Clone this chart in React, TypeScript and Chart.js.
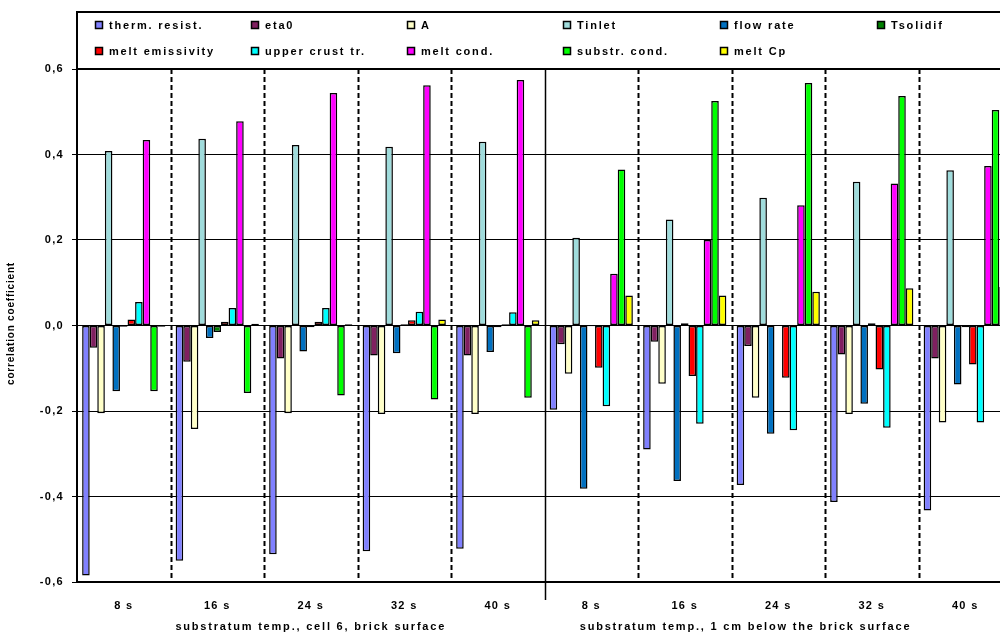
import React, { useEffect, useRef } from 'react';
import { Chart, registerables } from 'chart.js';

Chart.register(...registerables);

const categories = ['8 s', '16 s', '24 s', '32 s', '40 s', '8 s', '16 s', '24 s', '32 s', '40 s'];
const groupLabels = ['substratum temp., cell 6, brick surface', 'substratum temp., 1 cm below the brick surface'];
const yAxisTitle = 'correlation coefficient';
const yTickValues = [-0.6, -0.4, -0.2, 0, 0.2, 0.4, 0.6];

const seriesNames = [
  'therm. resist.', 'eta0', 'A', 'Tinlet', 'flow rate', 'Tsolidif',
  'melt emissivity', 'upper crust tr.', 'melt cond.', 'substr. cond.', 'melt Cp',
];
const seriesColors = [
  '#8080FF', '#802060', '#FFFFC8', '#A0DCDC', '#0070C0', '#008000',
  '#FF0000', '#00FFFF', '#FF00FF', '#00FF00', '#FFFF00',
];

const thermResist = [-0.585, -0.55, -0.535, -0.528, -0.522, -0.197, -0.29, -0.373, -0.413, -0.433];
const eta0 = [-0.052, -0.085, -0.077, -0.07, -0.07, -0.044, -0.038, -0.048, -0.068, -0.077];
const aParam = [-0.205, -0.242, -0.205, -0.207, -0.207, -0.113, -0.136, -0.169, -0.207, -0.227];
const tInlet = [0.408, 0.437, 0.422, 0.418, 0.43, 0.205, 0.248, 0.299, 0.336, 0.363];
const flowRate = [-0.154, -0.029, -0.061, -0.065, -0.062, -0.382, -0.364, -0.253, -0.183, -0.138];
const tSolidif = [-0.003, -0.015, -0.004, 0.003, -0.004, -0.002, 0.005, 0.001, 0.005, -0.004];
const meltEmissivity = [0.014, 0.009, 0.009, 0.012, 0.003, -0.099, -0.118, -0.122, -0.103, -0.091];
const upperCrust = [0.055, 0.041, 0.041, 0.032, 0.031, -0.189, -0.23, -0.245, -0.239, -0.227];
const meltCond = [0.434, 0.478, 0.544, 0.562, 0.574, 0.121, 0.2, 0.281, 0.332, 0.373];
const substrCond = [-0.154, -0.158, -0.164, -0.173, -0.169, 0.365, 0.525, 0.567, 0.537, 0.504];
const meltCp = [-0.003, 0.004, 0.003, 0.014, 0.012, 0.07, 0.07, 0.079, 0.087, 0.09];

const seriesValues = [
  thermResist, eta0, aParam, tInlet, flowRate, tSolidif,
  meltEmissivity, upperCrust, meltCond, substrCond, meltCp,
];

const FAMILY = '"Liberation Sans", Arial, sans-serif';
const FONT = 'bold 11px ' + FAMILY;

const decorPlugin = {
  id: 'decor',
  beforeDraw(chart: any) {
    const ctx = chart.ctx;
    ctx.save();
    ctx.fillStyle = '#fff';
    ctx.fillRect(0, 0, chart.width, chart.height);
    ctx.restore();
    ctx.letterSpacing = '1.3px';
  },
  afterDraw(chart: any) {
    const ctx = chart.ctx;
    const { left, top, right, bottom } = chart.chartArea;
    const x = chart.scales.x;
    ctx.save();
    ctx.letterSpacing = '0px';
    ctx.strokeStyle = '#000';

    // group separators
    for (let i = 1; i < categories.length; i++) {
      const px = Math.round((x.getPixelForValue(i - 1) + x.getPixelForValue(i)) / 2) + 0.5;
      ctx.beginPath();
      if (i === 5) {
        ctx.setLineDash([]);
        ctx.lineWidth = 1.5;
        ctx.moveTo(px, top);
        ctx.lineTo(px, bottom + 18);
      } else {
        ctx.setLineDash([5, 3]);
        ctx.lineWidth = 2;
        ctx.moveTo(px, top);
        ctx.lineTo(px, bottom);
      }
      ctx.stroke();
    }
    ctx.setLineDash([]);

    // legend frame
    const legTop = 12;
    ctx.lineWidth = 2;
    ctx.beginPath();
    ctx.moveTo(left, legTop);
    ctx.lineTo(chart.width, legTop);
    ctx.moveTo(left, legTop - 1);
    ctx.lineTo(left, top);
    ctx.moveTo(left, top);
    ctx.lineTo(right, top);
    ctx.stroke();

    // legend items
    const colX = [95, 251, 407, 563, 720, 877];
    const rowY = [25, 51];
    ctx.font = FONT;
    ctx.textBaseline = 'middle';
    ctx.textAlign = 'left';
    ctx.letterSpacing = '1.8px';
    seriesNames.forEach((name, i) => {
      const col = i % 6;
      const row = Math.floor(i / 6);
      const bx = colX[col];
      const by = rowY[row];
      ctx.fillStyle = seriesColors[i];
      ctx.fillRect(bx, by - 4, 8, 8);
      ctx.lineWidth = 1.5;
      ctx.strokeStyle = '#000';
      ctx.strokeRect(bx + 0.5, by - 3.5, 7, 7);
      ctx.fillStyle = '#000';
      ctx.fillText(name, bx + 14, by + 1);
    });

    // group labels
    ctx.textAlign = 'center';
    ctx.letterSpacing = '1.8px';
    ctx.fillText(groupLabels[0], x.getPixelForValue(2), bottom + 45);
    ctx.fillText(groupLabels[1], x.getPixelForValue(6.65), bottom + 45);

    // y-axis title
    ctx.save();
    ctx.translate(11, (top + bottom) / 2 - 2);
    ctx.rotate(-Math.PI / 2);
    ctx.letterSpacing = '0.8px';
    ctx.font = 'bold 10px ' + FAMILY;
    ctx.textAlign = 'center';
    ctx.textBaseline = 'middle';
    ctx.fillText(yAxisTitle, 0, 0);
    ctx.restore();

    ctx.restore();
  },
};

export default function App() {
  const ref = useRef<HTMLCanvasElement | null>(null);
  useEffect(() => {
    if (!ref.current) return;
    const chart = new Chart(ref.current, {
      type: 'bar',
      data: {
        labels: categories,
        datasets: seriesNames.map((name, i) => ({
          label: name,
          data: seriesValues[i],
          backgroundColor: seriesColors[i],
          borderColor: '#000',
          borderWidth: 1.5,
          borderSkipped: false,
          categoryPercentage: 0.89,
          barPercentage: 1,
        })),
      },
      options: {
        responsive: false,
        animation: false,
        devicePixelRatio: 1,
        layout: { padding: { top: 69, left: 0, right: 0, bottom: 0 } },
        plugins: {
          legend: { display: false },
          tooltip: { enabled: false },
          title: { display: false },
        },
        scales: {
          x: {
            type: 'category',
            offset: true,
            grid: { display: false, drawTicks: false },
            border: { display: true, color: '#000', width: 2 },
            ticks: {
              color: '#000',
              font: { family: FAMILY, size: 11, weight: 'bold' },
              padding: 17,
              maxRotation: 0,
              autoSkip: false,
            },
            afterFit(scale: any) {
              scale.height = 55;
            },
          },
          y: {
            type: 'linear',
            min: -0.6,
            max: 0.6,
            afterBuildTicks(scale: any) {
              scale.ticks = yTickValues.map((v) => ({ value: v }));
            },
            grid: { color: '#000', lineWidth: 1, drawTicks: true, tickLength: 5 },
            border: { display: true, color: '#000', width: 2 },
            ticks: {
              color: '#000',
              font: { family: FAMILY, size: 11, weight: 'bold' },
              padding: 8,
              callback: (v: any) => Number(v).toFixed(1).replace('.', ','),
            },
            afterFit(scale: any) {
              scale.width = 77;
            },
          },
        },
      },
      plugins: [decorPlugin],
    });
    return () => chart.destroy();
  }, []);
  return (
    <div
      style={{
        position: 'fixed',
        left: 0,
        top: 0,
        width: 1000,
        height: 637,
        overflow: 'hidden',
        background: '#fff',
      }}
    >
      <canvas ref={ref} width={1012} height={637} style={{ display: 'block' }} />
    </div>
  );
}
